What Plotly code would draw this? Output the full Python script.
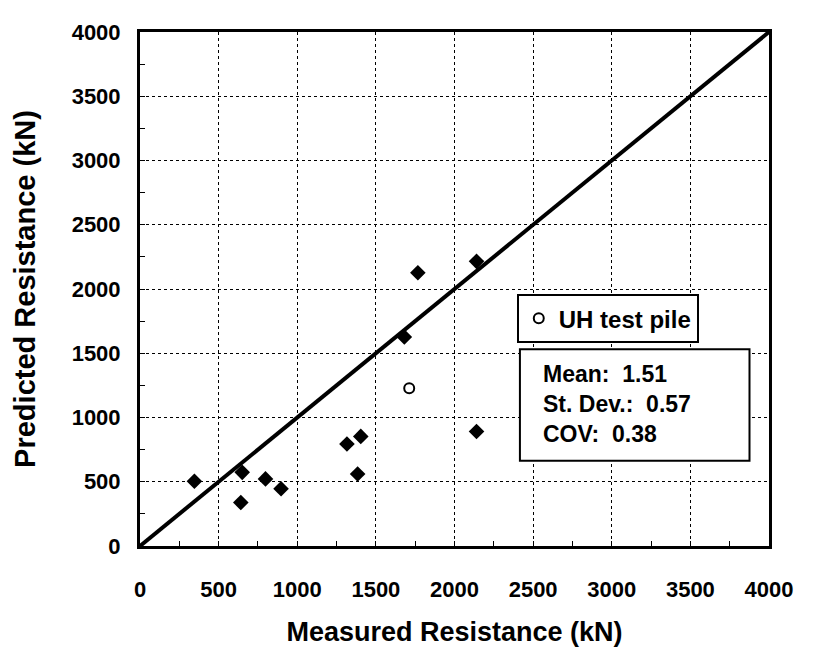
import plotly.graph_objects as go

# Data
measured = [346, 650, 641, 798, 897, 1316, 1404, 1384, 1681, 1767, 2140, 2140]
predicted = [504, 573, 338, 522, 445, 794, 853, 560, 1627, 2127, 2215, 891]
uh_measured = [1712]
uh_predicted = [1228]
line_x = [0, 4000]
line_y = [0, 4000]
tick_vals = [0, 500, 1000, 1500, 2000, 2500, 3000, 3500, 4000]
stats_text = "Mean:  1.51<br>St. Dev.:  0.57<br>COV:  0.38"

FONT = "Liberation Sans, Arial, sans-serif"

fig = go.Figure()
fig.add_trace(go.Scatter(x=line_x, y=line_y, mode="lines",
                         line=dict(color="black", width=4),
                         showlegend=False, hoverinfo="skip"))
fig.add_trace(go.Scatter(x=measured, y=predicted, mode="markers",
                         marker=dict(symbol="diamond", size=12, color="black"),
                         showlegend=False))
fig.add_trace(go.Scatter(x=uh_measured, y=uh_predicted, mode="markers",
                         name="<b>UH test pile</b>",
                         marker=dict(symbol="circle-open", size=10, color="black",
                                     line=dict(width=2, color="black"))))

axis_common = dict(
    range=[0, 4000], tickvals=tick_vals, ticktext=[str(v) for v in tick_vals],
    showline=True, linecolor="black", linewidth=3, mirror=True,
    showgrid=True, gridcolor="black", gridwidth=1, griddash="dot",
    ticks="inside", ticklen=5, tickcolor="black",
    minor=dict(dtick=250, ticks="inside", ticklen=5, tickcolor="black", showgrid=False),
    zeroline=False,
    tickfont=dict(family=FONT, size=22, color="black", weight="bold"),
)

fig.update_layout(
    width=797, height=646,
    margin=dict(l=132, r=29, t=15, b=101),
    paper_bgcolor="white", plot_bgcolor="white",
    font=dict(family=FONT, color="black"),
    xaxis=dict(**axis_common,
               title=dict(text="<b>Measured Resistance (kN)</b>",
                          font=dict(family=FONT, size=27, color="black"), standoff=21),
               ticklabelstandoff=22),
    yaxis=dict(**axis_common,
               title=dict(text="<b>Predicted Resistance (kN)</b>",
                          font=dict(family=FONT, size=29, color="black"), standoff=28),
               ticklabelstandoff=12),
    legend=dict(x=0.599, y=0.49, xanchor="left", yanchor="top",
                bgcolor="white", bordercolor="black", borderwidth=2,
                font=dict(family=FONT, size=24, color="black"),
                itemwidth=30, tracegroupgap=0),
    shapes=[dict(type="rect", xref="paper", yref="paper",
                 x0=0.604, x1=0.969, y0=0.166, y1=0.383,
                 line=dict(color="black", width=2), fillcolor="white", layer="above")],
    annotations=[dict(text="<b>" + stats_text + "</b>", xref="paper", yref="paper",
                      x=0.638, y=0.2755, xanchor="left", yanchor="middle",
                      align="left", showarrow=False,
                      font=dict(family=FONT, size=23, color="black"))],
)

fig.write_html("out.html")
